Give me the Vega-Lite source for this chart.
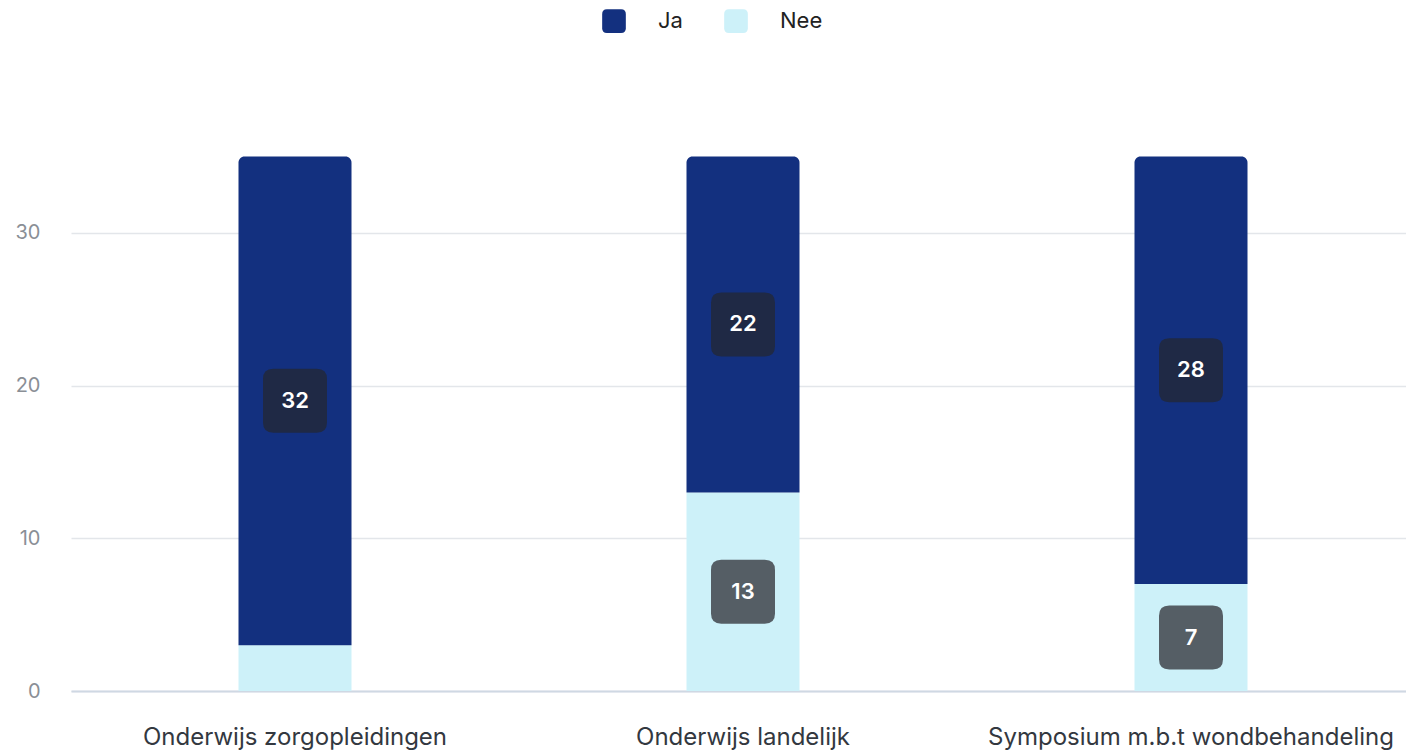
{
  "$schema": "https://vega.github.io/schema/vega-lite/v6.json",
  "width": 1335,
  "height": 611,
  "autosize": {"type": "none"},
  "padding": {"left": 71, "top": 80, "right": 0, "bottom": 62},
  "background": "#ffffff",
  "config": {
    "font": "Inter",
    "view": {"stroke": null}
  },
  "data": {
    "values": [
      {"cat": "Onderwijs zorgopleidingen", "answer": "Ja", "value": 32},
      {"cat": "Onderwijs zorgopleidingen", "answer": "Nee", "value": 3},
      {"cat": "Onderwijs landelijk", "answer": "Ja", "value": 22},
      {"cat": "Onderwijs landelijk", "answer": "Nee", "value": 13},
      {"cat": "Symposium m.b.t wondbehandeling", "answer": "Ja", "value": 28},
      {"cat": "Symposium m.b.t wondbehandeling", "answer": "Nee", "value": 7}
    ]
  },
  "transform": [
    {"stack": "value", "groupby": ["cat"], "as": ["y0", "y1"], "sort": [{"field": "answer", "order": "descending"}]},
    {"calculate": "(datum.y0 + datum.y1) / 2", "as": "mid"}
  ],
  "encoding": {
    "x": {
      "field": "cat",
      "type": "nominal",
      "sort": null,
      "scale": {"paddingInner": 0, "paddingOuter": 0, "range": [0, 1344]},
      "axis": {
        "title": null,
        "labelAngle": 0,
        "labelFontSize": 24,
        "labelLimit": 0,
        "labelColor": "#333840",
        "labelPadding": 34,
        "ticks": false,
        "domainColor": "#cfd8e3",
        "domainWidth": 2,
        "grid": false
      }
    }
  },
  "layer": [
    {
      "transform": [{"filter": "datum.answer === 'Nee'"}],
      "mark": {"type": "bar", "width": 113},
      "encoding": {
        "y": {
          "field": "y0",
          "type": "quantitative",
          "scale": {"domain": [0, 40], "nice": false},
          "axis": {
            "title": null,
            "values": [0, 10, 20, 30],
            "labelFontSize": 20,
            "labelColor": "#8a8f96",
            "labelPadding": 31,
            "ticks": false,
            "domain": false,
            "gridColor": "#e3e6ea",
            "gridWidth": 1.5
          }
        },
        "y2": {"field": "y1"},
        "color": {
          "field": "answer",
          "type": "nominal",
          "scale": {"domain": ["Ja", "Nee"], "range": ["#13307f", "#cdf1f9"]},
          "legend": {
            "title": null,
            "orient": "none",
            "direction": "horizontal",
            "legendX": 531,
            "legendY": -71,
            "symbolType": "M-0.6,-1 L0.6,-1 Q1,-1 1,-0.6 L1,0.6 Q1,1 0.6,1 L-0.6,1 Q-1,1 -1,0.6 L-1,-0.6 Q-1,-1 -0.6,-1 Z",
            "symbolSize": 560,
            "symbolStrokeWidth": 0,
            "labelFontSize": 22,
            "labelColor": "#222222",
            "labelOffset": 32,
            "columnPadding": 41
          }
        }
      }
    },
    {
      "transform": [{"filter": "datum.answer === 'Ja'"}],
      "mark": {"type": "bar", "width": 113, "cornerRadiusTopLeft": 6, "cornerRadiusTopRight": 6},
      "encoding": {
        "y": {"field": "y0", "type": "quantitative"},
        "y2": {"field": "y1"},
        "color": {
          "field": "answer",
          "type": "nominal",
          "scale": {"domain": ["Ja", "Nee"], "range": ["#13307f", "#cdf1f9"]},
          "legend": null
        }
      }
    },
    {
      "transform": [{"filter": "datum.value >= 5"}],
      "mark": {
        "type": "point",
        "filled": true,
        "opacity": 1,
        "shape": "M-0.68,-1 L0.68,-1 Q1,-1 1,-0.68 L1,0.68 Q1,1 0.68,1 L-0.68,1 Q-1,1 -1,0.68 L-1,-0.68 Q-1,-1 -0.68,-1 Z",
        "size": 4096
      },
      "encoding": {
        "y": {"field": "mid", "type": "quantitative"},
        "color": {
          "field": "answer",
          "type": "nominal",
          "scale": {"domain": ["Ja", "Nee"], "range": ["#1f2945", "#555e65"]},
          "legend": null
        }
      }
    },
    {
      "transform": [{"filter": "datum.value >= 5"}],
      "mark": {"type": "text", "color": "#ffffff", "fontSize": 22, "fontWeight": 600, "baseline": "middle", "align": "center"},
      "encoding": {
        "y": {"field": "mid", "type": "quantitative"},
        "text": {"field": "value", "type": "quantitative"}
      }
    }
  ],
  "resolve": {"scale": {"color": "independent"}}
}
